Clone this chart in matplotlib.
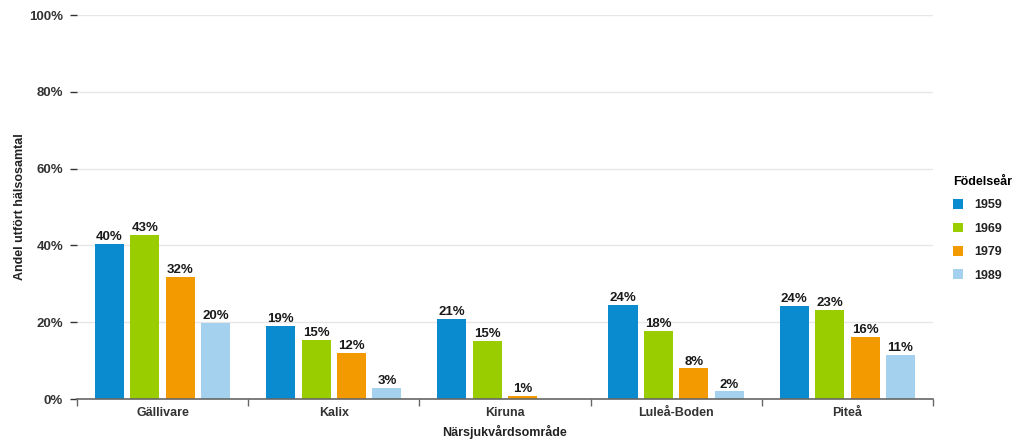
import matplotlib
matplotlib.use("Agg")
import matplotlib.pyplot as plt
import numpy as np

plt.rcParams['font.family'] = ['Liberation Sans', 'DejaVu Sans']

categories = ["Gällivare", "Kalix", "Kiruna", "Luleå-Boden", "Piteå"]
years = ["1959", "1969", "1979", "1989"]
v1959 = [40.4, 19.0, 20.8, 24.5, 24.2]
v1969 = [42.8, 15.4, 15.1, 17.7, 23.2]
v1979 = [31.8, 12.0, 0.8, 8.0, 16.1]
v1989 = [19.8, 2.9, None, 2.0, 11.4]
labels1959 = ["40%", "19%", "21%", "24%", "24%"]
labels1969 = ["43%", "15%", "15%", "18%", "23%"]
labels1979 = ["32%", "12%", "1%", "8%", "16%"]
labels1989 = ["20%", "3%", None, "2%", "11%"]
colors = ["#0a8bd0", "#9acd00", "#f39a00", "#a4d2ee"]

series = [v1959, v1969, v1979, v1989]
series_labels = [labels1959, labels1969, labels1979, labels1989]

fig = plt.figure(figsize=(10.21, 4.43), dpi=100)
ax = fig.add_axes([0.0754, 0.0993, 0.8384, 0.8667])

x = np.arange(len(categories))
pitch = 0.207
width = 0.17
for i, (vals, labs, col, yr) in enumerate(zip(series, series_labels, colors, years)):
    xs = x + (i - 1.5) * pitch
    for xi, v, lab in zip(xs, vals, labs):
        if v is None:
            continue
        ax.bar(xi, v, width=width, color=col, edgecolor="none", zorder=3)
        ax.text(xi, v + 0.2, lab, ha="center", va="bottom", fontsize=9.5,
                fontweight="bold", color="#1a1a1a", zorder=4)
    ax.bar(0, 0, width=0, color=col, label=yr)

ax.set_xlim(-0.5, len(categories) - 0.5)
ax.set_ylim(0, 100)
ax.set_yticks([0, 20, 40, 60, 80, 100])
ax.set_yticklabels(["0%", "20%", "40%", "60%", "80%", "100%"])
ax.set_xticks(x)
ax.set_xticklabels(categories)
ax.set_xticks(np.arange(-0.5, len(categories), 1.0), minor=True)

for s in ["top", "right", "left"]:
    ax.spines[s].set_visible(False)
ax.spines["bottom"].set_color("#666666")
ax.spines["bottom"].set_linewidth(1.2)
ax.spines["bottom"].set_zorder(5)

ax.grid(axis="y", color="#e6e6e6", linewidth=1, zorder=0)
ax.tick_params(axis="y", length=5, width=1, color="#333333", pad=5,
               labelsize=9.5)
ax.tick_params(axis="x", which="major", length=0, pad=6, labelsize=9)
ax.tick_params(axis="x", which="minor", length=5, width=1, color="#666666")
for lab in ax.get_yticklabels() + ax.get_xticklabels():
    lab.set_fontweight("bold")
    lab.set_color("#333333")

ax.set_xlabel("Närsjukvårdsområde", fontsize=9, fontweight="bold", color="#222222", labelpad=4)
ax.set_ylabel("Andel utfört hälsosamtal", fontsize=9, fontweight="bold", color="#222222", labelpad=2)

leg = ax.legend(title="Födelseår", loc="upper left", bbox_to_anchor=(1.01, 0.61),
                frameon=False, handlelength=0.8, handleheight=0.8,
                labelspacing=0.9, fontsize=9, title_fontsize=9, alignment="left",
                handletextpad=0.9)
leg.get_title().set_fontweight("bold")
for t in leg.get_texts():
    t.set_fontweight("bold")
    t.set_color("#222222")

fig.savefig("out.png", dpi=100)
